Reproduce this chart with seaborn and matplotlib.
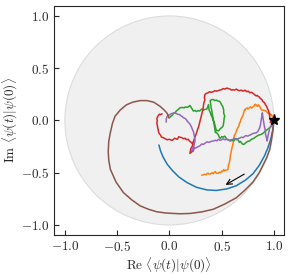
import matplotlib
matplotlib.use("Agg")
import matplotlib.pyplot as plt
import seaborn as sns
import numpy as np
import pandas as pd
from matplotlib.patches import Circle

# overlap trajectories <psi(t)|psi(0)> in the complex plane
blue_re = [1.0, 0.99, 0.97, 0.94, 0.91, 0.86, 0.80, 0.73, 0.64, 0.55, 0.45,
           0.36, 0.26, 0.17, 0.09, 0.03, -0.02, -0.06, -0.085, -0.1]
blue_im = [0.0, -0.09, -0.18, -0.27, -0.34, -0.43, -0.51, -0.57, -0.625, -0.655,
           -0.67, -0.665, -0.64, -0.595, -0.54, -0.48, -0.42, -0.35, -0.29, -0.235]

orange_re = [1.0, 0.99, 0.985, 0.976, 0.97, 0.96, 0.95, 0.94, 0.93, 0.925, 0.91,
             0.9, 0.89, 0.88, 0.875, 0.87, 0.86, 0.85, 0.845, 0.835, 0.825,
             0.817, 0.81, 0.80, 0.79, 0.785, 0.775, 0.77, 0.76, 0.75, 0.745,
             0.735, 0.725, 0.72, 0.715, 0.71, 0.705, 0.7, 0.69, 0.685, 0.68,
             0.67, 0.665, 0.655, 0.645, 0.64, 0.63, 0.62, 0.615, 0.61, 0.6,
             0.595, 0.59, 0.585, 0.58, 0.575, 0.565, 0.56, 0.545, 0.53, 0.52,
             0.51, 0.5, 0.49, 0.48, 0.465, 0.45, 0.44, 0.43, 0.42, 0.41, 0.395,
             0.38, 0.37, 0.36, 0.35, 0.34, 0.325, 0.31]
orange_im = [0.0, 0.02, 0.04, 0.057, 0.05, 0.07, 0.065, 0.073, 0.085, 0.09, 0.095,
             0.1, 0.095, 0.105, 0.115, 0.125, 0.14, 0.15, 0.135, 0.14, 0.155,
             0.152, 0.135, 0.13, 0.12, 0.12, 0.13, 0.125, 0.115, 0.11, 0.12,
             0.115, 0.1, 0.105, 0.085, 0.07, 0.05, 0.04, 0.02, 0.01, -0.01,
             -0.03, -0.054, -0.07, -0.09, -0.11, -0.13, -0.15, -0.19, -0.22,
             -0.26, -0.28, -0.31, -0.33, -0.37, -0.4, -0.43, -0.47, -0.475, -0.48,
             -0.47, -0.49, -0.485, -0.5, -0.495, -0.505, -0.505, -0.49, -0.495,
             -0.51, -0.5, -0.51, -0.515, -0.505, -0.51, -0.52, -0.515, -0.52, -0.524]

green_re = [1.0, 0.99, 0.98, 0.97, 0.96, 0.94, 0.92, 0.9, 0.88, 0.855, 0.83, 0.81,
            0.785, 0.77, 0.75, 0.735, 0.72, 0.705, 0.69, 0.68, 0.67, 0.66, 0.645,
            0.63, 0.615, 0.6, 0.58, 0.565, 0.55, 0.54, 0.53, 0.515, 0.5, 0.49,
            0.48, 0.47, 0.455, 0.44, 0.435, 0.43, 0.425, 0.42, 0.415, 0.41, 0.405,
            0.40, 0.395, 0.39, 0.405, 0.42, 0.435, 0.45, 0.465, 0.48, 0.49, 0.5,
            0.51, 0.515, 0.52, 0.52, 0.53, 0.525, 0.52, 0.515, 0.5, 0.49, 0.48,
            0.47, 0.46, 0.45, 0.44, 0.43, 0.42, 0.41, 0.4, 0.39, 0.38, 0.375,
            0.36, 0.34, 0.325, 0.31, 0.29, 0.275, 0.26, 0.245, 0.23, 0.215, 0.197,
            0.18, 0.17, 0.155, 0.14, 0.12, 0.1, 0.08, 0.065, 0.055, 0.04, 0.03,
            0.015, 0.0]
green_im = [0.0, -0.02, -0.04, -0.06, -0.07, -0.085, -0.1, -0.12, -0.133, -0.14,
            -0.155, -0.17, -0.18, -0.195, -0.2, -0.21, -0.225, -0.23, -0.215,
            -0.2, -0.21, -0.19, -0.175, -0.18, -0.195, -0.19, -0.197, -0.185,
            -0.18, -0.165, -0.15, -0.16, -0.155, -0.17, -0.165, -0.14, -0.12,
            -0.115, -0.08, -0.05, -0.02, 0.01, 0.04, 0.07, 0.1, 0.12, 0.16, 0.19,
            0.2, 0.2, 0.19, 0.195, 0.185, 0.184, 0.17, 0.15, 0.135, 0.12, 0.1,
            0.07, 0.04, 0.026, -0.02, -0.05, -0.07, -0.075, -0.09, -0.1, -0.095,
            -0.1, -0.06, -0.02, 0.0, 0.03, 0.05, 0.08, 0.1, 0.152, 0.11, 0.105,
            0.1, 0.11, 0.09, 0.095, 0.085, 0.095, 0.09, 0.115, 0.143, 0.13, 0.125,
            0.13, 0.12, 0.125, 0.12, 0.1, 0.09, 0.073, 0.07, 0.05, 0.04, 0.025]

red_re = [1.0, 0.98, 0.966, 0.97, 0.965, 0.96, 0.96, 0.955, 0.95, 0.94, 0.93,
          0.92, 0.91, 0.895, 0.885, 0.87, 0.86, 0.85, 0.84, 0.83, 0.815, 0.8,
          0.785, 0.77, 0.755, 0.74, 0.725, 0.705, 0.69, 0.67, 0.655, 0.64, 0.625,
          0.61, 0.595, 0.58, 0.565, 0.55, 0.53, 0.515, 0.5, 0.48, 0.465, 0.45,
          0.435, 0.42, 0.4, 0.385, 0.37, 0.355, 0.34, 0.335, 0.34, 0.335, 0.33,
          0.325, 0.32, 0.31, 0.305, 0.295, 0.29, 0.28, 0.27, 0.26, 0.245, 0.23,
          0.22, 0.205, 0.197, 0.215, 0.23, 0.235, 0.225, 0.21, 0.195, 0.18, 0.165,
          0.15, 0.135, 0.12, 0.1, 0.09, 0.076, 0.06, 0.05, 0.035, 0.023, 0.0,
          -0.02, -0.04, -0.057, -0.075, -0.085, -0.1, -0.105, -0.11, -0.115,
          -0.12, -0.115, -0.12, -0.115, -0.105, -0.095, -0.085, -0.07]
red_im = [0.0, -0.01, -0.022, 0.0, 0.01, 0.03, 0.04, 0.07, 0.09, 0.11, 0.136,
          0.15, 0.17, 0.18, 0.2, 0.21, 0.225, 0.23, 0.24, 0.235, 0.248, 0.26,
          0.27, 0.265, 0.28, 0.275, 0.29, 0.28, 0.29, 0.285, 0.29, 0.3, 0.29,
          0.295, 0.29, 0.3, 0.305, 0.31, 0.3, 0.305, 0.295, 0.29, 0.285, 0.28,
          0.285, 0.275, 0.27, 0.275, 0.264, 0.26, 0.248, 0.22, 0.2, 0.18, 0.168,
          0.13, 0.1, 0.06, 0.04, 0.0, -0.02, -0.06, -0.086, -0.12, -0.16, -0.2,
          -0.245, -0.27, -0.315, -0.3, -0.29, -0.26, -0.23, -0.21, -0.2, -0.18,
          -0.185, -0.17, -0.175, -0.165, -0.16, -0.156, -0.18, -0.175, -0.17,
          -0.185, -0.19, -0.18, -0.185, -0.175, -0.165, -0.16, -0.14, -0.12,
          -0.1, -0.075, -0.05, -0.02, -0.006, 0.015, 0.03, 0.048, 0.06, 0.055,
          0.064]

purple_re = [1.0, 0.99, 0.98, 0.97, 0.96, 0.955, 0.945, 0.94, 0.935, 0.93, 0.925,
             0.92, 0.92, 0.915, 0.91, 0.905, 0.9, 0.895, 0.89, 0.885, 0.88, 0.875,
             0.87, 0.86, 0.85, 0.835, 0.82, 0.8, 0.785, 0.77, 0.75, 0.73, 0.705,
             0.69, 0.67, 0.655, 0.64, 0.625, 0.61, 0.59, 0.57, 0.55, 0.53, 0.515,
             0.5, 0.485, 0.47, 0.455, 0.44, 0.42, 0.4, 0.38, 0.36, 0.345, 0.325,
             0.31, 0.29, 0.275, 0.26, 0.245, 0.23, 0.213, 0.22, 0.225, 0.235,
             0.24, 0.245, 0.245, 0.24, 0.235, 0.23, 0.22, 0.215, 0.205, 0.197,
             0.185, 0.17, 0.16, 0.15, 0.135, 0.12, 0.11, 0.1, 0.085, 0.07, 0.055,
             0.04, 0.02, 0.007, -0.01, -0.02, -0.03, -0.03]
purple_im = [0.0, -0.03, -0.05, -0.06, -0.07, -0.1, -0.14, -0.17, -0.197, -0.17,
             -0.15, -0.13, -0.117, -0.08, -0.06, -0.03, 0.0, 0.03, 0.073, 0.04,
             0.01, -0.022, -0.05, -0.08, -0.1, -0.117, -0.12, -0.125, -0.133,
             -0.14, -0.15, -0.145, -0.165, -0.16, -0.17, -0.175, -0.185, -0.17,
             -0.18, -0.185, -0.19, -0.18, -0.185, -0.175, -0.185, -0.19, -0.18,
             -0.195, -0.19, -0.197, -0.2, -0.21, -0.205, -0.215, -0.23, -0.225,
             -0.245, -0.25, -0.26, -0.265, -0.276, -0.292, -0.27, -0.26, -0.24,
             -0.22, -0.2, -0.18, -0.155, -0.13, -0.105, -0.086, -0.07, -0.05,
             -0.035, -0.022, -0.005, 0.01, 0.02, 0.026, 0.04, 0.045, 0.055, 0.057,
             0.065, 0.073, 0.07, 0.065, 0.057, 0.05, 0.04, 0.015, -0.016]

brown_re = [1.0, 0.99, 0.975, 0.96, 0.93, 0.91, 0.86, 0.8, 0.72, 0.64, 0.53,
            0.42, 0.31, 0.2, 0.1, 0.04, -0.04, -0.12, -0.2, -0.28, -0.36, -0.44,
            -0.51, -0.565, -0.58, -0.585, -0.58, -0.565, -0.545, -0.52, -0.47,
            -0.41, -0.35, -0.28, -0.215, -0.15, -0.09, -0.05, -0.025, -0.01, -0.005]
brown_im = [0.0, -0.1, -0.2, -0.28, -0.36, -0.4, -0.5, -0.59, -0.67, -0.74, -0.8,
            -0.85, -0.875, -0.89, -0.893, -0.89, -0.885, -0.874, -0.85, -0.817,
            -0.76, -0.69, -0.59, -0.467, -0.38, -0.3, -0.2, -0.117, -0.03, 0.04,
            0.1, 0.15, 0.175, 0.19, 0.19, 0.175, 0.136, 0.1, 0.073, 0.045, 0.025]

series = [(blue_re, blue_im), (orange_re, orange_im), (green_re, green_im),
          (red_re, red_im), (purple_re, purple_im), (brown_re, brown_im)]

sns.set_style("ticks")
plt.rcParams.update({
    "font.family": "serif",
    "font.serif": ["cmr10"],
    "mathtext.fontset": "cm",
    "axes.formatter.use_mathtext": True,
    "font.size": 9.5,
    "xtick.direction": "in",
    "ytick.direction": "in",
})

fig = plt.figure(figsize=(2.91, 2.75), dpi=100)
ax = fig.add_axes([0.187, 0.142, 0.79, 0.84])

# unit disc as background
ax.add_patch(Circle((0, 0), 1.0, facecolor="#f0f0f0", edgecolor="#dcdcdc",
                    lw=0.8, zorder=0))

palette = sns.color_palette("tab10")
for i, (re, im) in enumerate(series):
    df = pd.DataFrame({"re": re, "im": im})
    sns.lineplot(data=df, x="re", y="im", sort=False, estimator=None,
                 color=palette[i], lw=1.1, ax=ax)

ax.plot([1.0], [0.0], marker="*", color="k", ms=8, zorder=10)
ax.annotate("", xy=(0.515, -0.63), xytext=(0.74, -0.5),
            arrowprops=dict(arrowstyle="->", color="k", lw=0.8))

ax.set_xlim(-1.1, 1.1)
ax.set_ylim(-1.1, 1.1)
ax.set_aspect("equal")
ax.set_xticks([-1.0, -0.5, 0.0, 0.5, 1.0])
ax.set_yticks([-1.0, -0.5, 0.0, 0.5, 1.0])
ax.set_xlabel(r"Re $\langle\psi(t)|\psi(0)\rangle$", labelpad=1)
ax.set_ylabel(r"Im $\langle\psi(t)|\psi(0)\rangle$", labelpad=1)

fig.savefig("out.png", dpi=100)
